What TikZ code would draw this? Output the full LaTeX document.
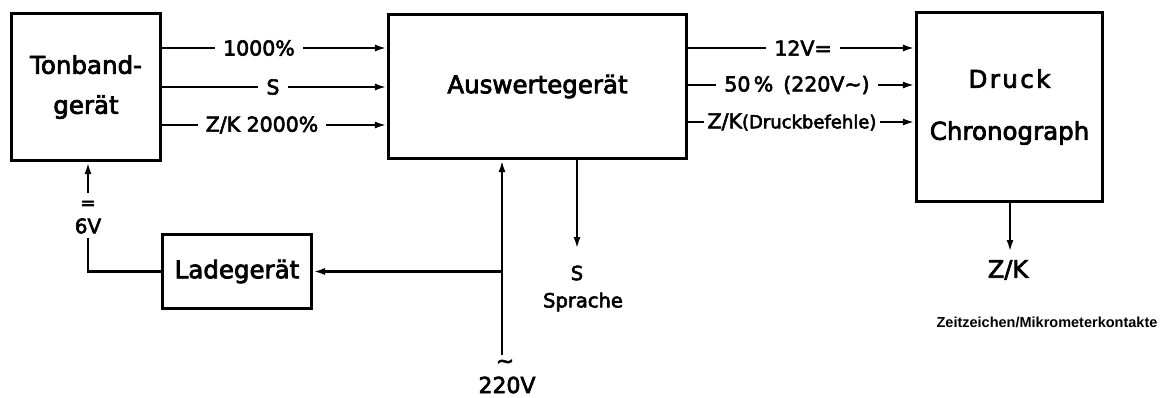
\documentclass[tikz,border=0pt]{standalone}
\usepackage{fontspec}
\setmainfont{DejaVu Sans}[FakeBold=3]
\newfontfamily\zfont{Liberation Sans}
\usetikzlibrary{arrows.meta}
\begin{document}
\begin{tikzpicture}[x=1pt,y=-1pt,
  box/.style={draw, line width=3.2pt, inner sep=0pt, align=center, font=\fontsize{24.5}{40}\selectfont},
  conn/.style={line width=2.4pt},
  arr/.style={conn, -{Latex[length=12pt,width=7pt]}},
  lbl/.style={fill=white, inner xsep=8pt, inner ysep=1pt, font=\fontsize{20.5}{24}\selectfont},
  txt/.style={inner sep=0pt}]
\useasboundingbox (0,0) rectangle (1170,397);
% boxes
\node[box, minimum width=149pt, minimum height=147pt] (ton) at (86,87) {Tonband-\\gerät};
\node[box, minimum width=298pt, minimum height=144pt] (aus) at (537.5,86.5) {Auswertegerät};
\node[box, minimum width=186pt, minimum height=189pt, font=\fontsize{24.5}{52}\selectfont] (dru) at (1009.5,107) {{\addfontfeature{LetterSpace=10}Druck}\\Chronograph};
\node[box, minimum width=149pt, minimum height=74pt] (lade) at (237,271.5) {Ladegerät};
% Tonband -> Auswertegeraet
\draw[arr] ([yshift=39pt]ton.east) -- ([yshift=39pt]ton.east -| aus.west);
\draw[arr] (ton.east) -- (ton.east -| aus.west);
\draw[arr] ([yshift=-38pt]ton.east) -- ([yshift=-38pt]ton.east -| aus.west);
\node[lbl] (l1) at (259,48) {1000\%};
\node[lbl] (l2) at (273,87) {S};
\node[lbl] (l3) at (262,125) {Z/K 2000\%};
% Auswertegeraet -> Druck
\draw[arr] ([yshift=38.5pt]aus.east) -- ([yshift=38.5pt]aus.east -| dru.west);
\draw[arr] ([yshift=1.5pt]aus.east) -- ([yshift=1.5pt]aus.east -| dru.west);
\draw[arr] ([yshift=-35.5pt]aus.east) -- ([yshift=-35.5pt]aus.east -| dru.west);
\node[lbl] (r1) at (803,48) {12V=};
\node[lbl] (r2) at (797,85) {50\,\% \,(220V\textasciitilde)};
\node[lbl, inner xsep=4pt] (r3) at (792,122) {Z/K{\fontsize{18}{20}\selectfont(Druckbefehle)}};
% 6V supply
\coordinate (c6a) at (88,193);
\coordinate (c6b) at (88,238);
\draw[conn] (lade.west) -| (c6b);
\draw[arr] (c6a) -- (c6a |- ton.south);
\node[txt, font=\fontsize{18}{18}\selectfont] (eq) at (88,205) {=};
\node[txt, font=\fontsize{20}{20}\selectfont] (v6) at (88,226) {6V};
% 220V
\coordinate (p220) at (502,355);
\draw[arr] (p220) -- (p220 |- aus.south);
\draw[arr] (p220 |- lade.east) -- (lade.east);
\node[txt, font=\fontsize{22}{22}\selectfont] (tl) at (505,364) {\textasciitilde};
\node[txt, font=\fontsize{22}{24}\selectfont] (v220) at (507,385) {220V};
% S Sprache
\coordinate (sEnd) at (577,249);
\draw[arr] (sEnd |- aus.south) -- (sEnd);
\node[txt, font=\fontsize{19.5}{20}\selectfont] (s) at (577,273) {S};
\node[txt, font=\fontsize{19.5}{20}\selectfont] (spr) at (583,302) {Sprache};
% Z/K
\coordinate (zkEnd) at (1010,252);
\draw[arr] (zkEnd |- dru.south) -- (zkEnd);
\node[txt, font=\fontsize{24}{26}\selectfont] (zk) at (1008,270) {Z/K};
\node[txt, font=\fontsize{14.5}{16}\selectfont] (zz) at (1047,322) {\zfont\bfseries Zeitzeichen/Mikrometerkontakte};
\end{tikzpicture}
\end{document}
